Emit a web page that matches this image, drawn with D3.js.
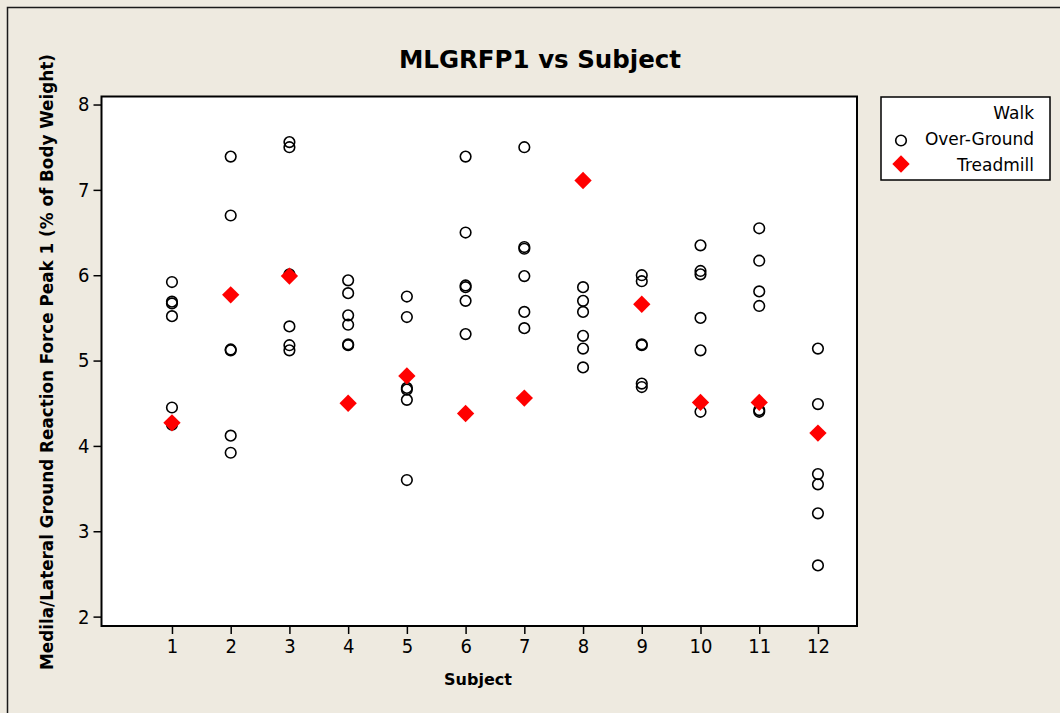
<!DOCTYPE html>
<html>
<head>
<meta charset="utf-8">
<script src="https://cdn.jsdelivr.net/npm/d3@7"></script>
<style>
  html, body { margin: 0; padding: 0; background: #EEEAE0; }
  svg { display: block; }
</style>
</head>
<body>
<script>
// ---- Data ----
const subjects = [1,2,3,4,5,6,7,8,9,10,11,12];
const overGround = [
  [5.92, 5.69, 5.67, 5.52, 4.45, 4.25],   // 1
  [7.39, 6.70, 5.13, 5.12, 4.12, 3.92],   // 2
  [7.56, 7.50, 6.01, 5.40, 5.18, 5.12],   // 3
  [5.94, 5.79, 5.53, 5.42, 5.19, 5.18],   // 4
  [5.75, 5.51, 4.68, 4.66, 4.54, 3.60],   // 5
  [7.39, 6.50, 5.88, 5.86, 5.70, 5.31],   // 6
  [7.50, 6.33, 6.31, 5.99, 5.57, 5.38],   // 7
  [5.86, 5.70, 5.57, 5.29, 5.14, 4.92],   // 8
  [6.00, 5.93, 5.19, 5.18, 4.73, 4.69],   // 9
  [6.35, 6.05, 6.01, 5.50, 5.12, 4.40],   // 10
  [6.55, 6.17, 5.81, 5.64, 4.42, 4.40],   // 11
  [5.14, 4.49, 3.67, 3.55, 3.21, 2.60]    // 12
];
const treadmill = [4.27, 5.77, 5.99, 4.50, 4.82, 4.38, 4.56, 7.11, 5.66, 4.51, 4.51, 4.15];
const yTicks = [2,3,4,5,6,7,8];
const xTicks = [1,2,3,4,5,6,7,8,9,10,11,12];
const titleText = "MLGRFP1 vs Subject";
const xLabel = "Subject";
const yLabel = "Medila/Lateral Ground Reaction Force Peak 1 (% of Body Weight)";
const legendTitle = "Walk";
const legendItems = ["Over-Ground", "Treadmill"];

// ---- Layout ----
const W = 1060, H = 713;
const plot = { left: 101.5, top: 96.5, right: 857, bottom: 626 };
const tickFont = "'DejaVu Sans Condensed', 'DejaVu Sans', sans-serif";
const font = "'DejaVu Sans', Verdana, sans-serif";

const svg = d3.select("body").append("svg").attr("width", W).attr("height", H);

svg.append("rect").attr("x", 0).attr("y", 0).attr("width", W).attr("height", H).attr("fill", "#EEEAE0");
// outer frame (cut off at right / bottom)
svg.append("path").attr("d", `M7.5,${H+2} V7.5 H${W+2}`).attr("fill", "none").attr("stroke", "#1a1a1a").attr("stroke-width", 1.5);

const x = d3.scaleLinear().domain([-0.2, 12.665]).range([plot.left, plot.right]);
const y = d3.scaleLinear().domain([1.89, 8.094]).range([plot.bottom, plot.top]);

svg.append("rect")
  .attr("x", plot.left).attr("y", plot.top)
  .attr("width", plot.right - plot.left).attr("height", plot.bottom - plot.top)
  .attr("fill", "#ffffff").attr("stroke", "#000").attr("stroke-width", 2);

// axes
const yAxis = d3.axisLeft(y).tickValues(yTicks).tickSize(8).tickPadding(4).tickFormat(d3.format("d"));
const gy = svg.append("g").attr("transform", `translate(${plot.left},0)`).call(yAxis);
const xAxis = d3.axisBottom(x).tickValues(xTicks).tickSize(8).tickPadding(5).tickFormat(d3.format("d"));
const gx = svg.append("g").attr("transform", `translate(0,${plot.bottom})`).call(xAxis);
[gx, gy].forEach(g => {
  g.select(".domain").remove();
  g.selectAll(".tick line").attr("stroke", "#000").attr("stroke-width", 1.5);
  g.selectAll(".tick text").attr("fill", "#000").style("font-family", tickFont).style("font-size", "20px");
});

// points
const ogData = [];
subjects.forEach((s, i) => overGround[i].forEach(v => ogData.push({ s, v })));
svg.append("g").selectAll("circle").data(ogData).join("circle")
  .attr("cx", d => x(d.s)).attr("cy", d => y(d.v)).attr("r", 5.3)
  .attr("fill", "none").attr("stroke", "#000").attr("stroke-width", 1.6);

const diamond = d3.symbol().type(d3.symbolSquare).size(150);
svg.append("g").selectAll("path").data(subjects.map((s, i) => ({ s, v: treadmill[i] }))).join("path")
  .attr("d", diamond)
  .attr("transform", d => `translate(${x(d.s)},${y(d.v)}) rotate(45)`)
  .attr("fill", "#FF0000");

// title & labels
svg.append("text").attr("x", 540).attr("y", 68).attr("text-anchor", "middle")
  .style("font-family", font).style("font-weight", "bold").style("font-size", "24.5px").text(titleText);
svg.append("text").attr("x", 478).attr("y", 685).attr("text-anchor", "middle")
  .style("font-family", font).style("font-weight", "bold").style("font-size", "16px").text(xLabel);
svg.append("text").attr("transform", `translate(53,362) rotate(-90)`).attr("text-anchor", "middle")
  .style("font-family", font).style("font-weight", "bold").style("font-size", "16.8px").text(yLabel);

// legend
const lg = svg.append("g");
lg.append("rect").attr("x", 881).attr("y", 97).attr("width", 169).attr("height", 83)
  .attr("fill", "#fff").attr("stroke", "#000").attr("stroke-width", 1.5);
lg.append("text").attr("x", 1034).attr("y", 119).attr("text-anchor", "end")
  .style("font-family", font).style("font-size", "17px").text(legendTitle);
legendItems.forEach((t, i) => {
  lg.append("text").attr("x", 1034).attr("y", 145 + i * 25.5).attr("text-anchor", "end")
    .style("font-family", font).style("font-size", "17px").text(t);
});
lg.append("circle").attr("cx", 901).attr("cy", 140.5).attr("r", 5.3)
  .attr("fill", "none").attr("stroke", "#000").attr("stroke-width", 1.6);
lg.append("path").attr("d", diamond).attr("transform", "translate(901,164) rotate(45)").attr("fill", "#FF0000");
</script>
</body>
</html>
